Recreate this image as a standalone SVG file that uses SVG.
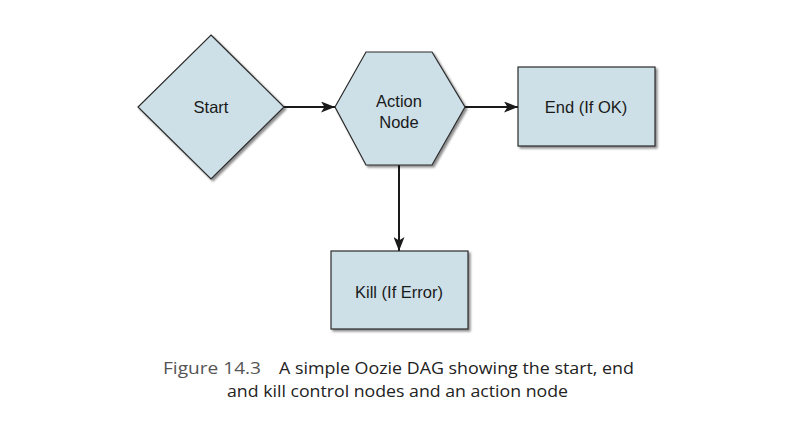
<svg xmlns="http://www.w3.org/2000/svg" width="806" height="442" viewBox="0 0 806 442">
<defs>
<filter id="sh" x="-10%" y="-10%" width="130%" height="130%">
<feDropShadow dx="2" dy="2" stdDeviation="1.2" flood-color="#000" flood-opacity="0.45"/>
</filter>
<marker id="arr" viewBox="0 0 14 11" refX="14" refY="5.5" markerWidth="14" markerHeight="11" markerUnits="userSpaceOnUse" orient="auto">
<path d="M0,0 L14,5.5 L0,11 L3.5,5.5 Z" fill="#1a1a1a"/>
</marker>
<style>
.n{fill:#cddfe7;stroke:#2b2b2b;stroke-width:1.2;filter:url(#sh)}
.t{font-family:"Liberation Sans",Arial,sans-serif;font-size:16.5px;fill:#1a1a1a;text-anchor:middle}
.c{stroke:#1a1a1a;stroke-width:2;fill:none;marker-end:url(#arr)}
.cap{font-family:"Open Sans","DejaVu Sans",sans-serif;font-size:17px;fill:#222}
</style>
</defs>
<rect width="806" height="442" fill="#fff"/>
<g id="connectors">
<line class="c" x1="284" y1="107" x2="335" y2="107"/>
<line class="c" x1="465" y1="107" x2="518" y2="107"/>
<line class="c" x1="399" y1="165" x2="399" y2="251"/>
</g>
<g id="start">
<polygon class="n" points="211,35 284,107 211,179 138,107"/>
<text class="t" x="211" y="113">Start</text>
</g>
<g id="action">
<polygon class="n" points="366,52 432,52 465,107 432,165 366,165 335,107"/>
<text class="t" x="399" y="107">Action</text>
<text class="t" x="399" y="128">Node</text>
</g>
<g id="end">
<rect class="n" x="518" y="67" width="137" height="79"/>
<text class="t" x="586" y="113">End (If OK)</text>
</g>
<g id="kill">
<rect class="n" x="331" y="251" width="137" height="78"/>
<text class="t" x="399" y="298">Kill (If Error)</text>
</g>
<g id="caption">
<text class="cap" y="374"><tspan x="163" fill="#555" textLength="98" lengthAdjust="spacingAndGlyphs">Figure 14.3</tspan><tspan x="279" textLength="355" lengthAdjust="spacingAndGlyphs">A simple Oozie DAG showing the start, end</tspan></text>
<text class="cap" x="227" y="397" textLength="341" lengthAdjust="spacingAndGlyphs">and kill control nodes and an action node</text>
</g>
</svg>
